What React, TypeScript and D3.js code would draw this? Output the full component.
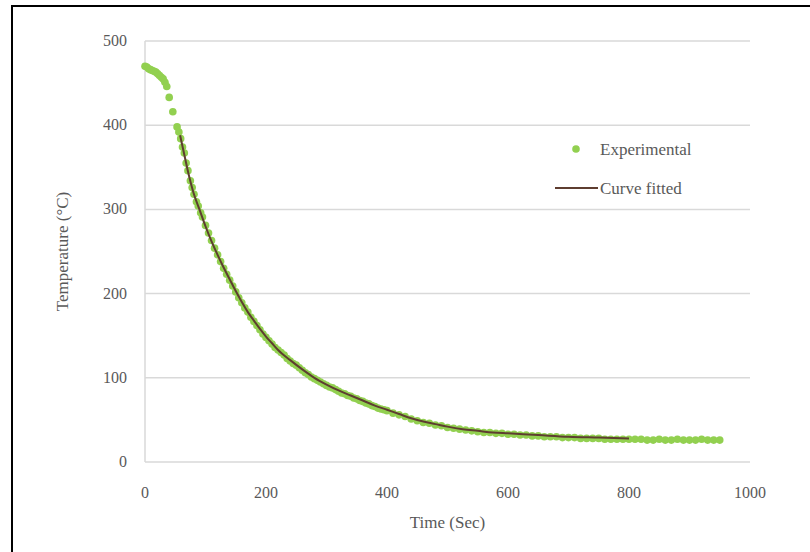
import React, { useEffect, useRef } from "react";
import * as d3 from "d3";

const expTime = [0, 3, 6, 9, 12, 15, 18, 21, 24, 27, 30, 33, 36, 40, 46, 53, 56, 59, 62, 65, 68, 71, 75, 78, 81, 85, 88, 92, 95, 100, 105, 110, 115, 120, 125, 130, 135, 140, 145, 150, 155, 160, 165, 170, 175, 180, 185, 190, 195, 200, 205, 210, 215, 220, 225, 230, 235, 240, 245, 250, 255, 260, 265, 270, 275, 280, 285, 290, 295, 300, 305, 310, 315, 320, 325, 330, 335, 340, 345, 350, 355, 360, 365, 370, 375, 380, 385, 390, 395, 400, 410, 420, 430, 440, 450, 460, 470, 480, 490, 500, 510, 520, 530, 540, 550, 560, 570, 580, 590, 600, 610, 620, 630, 640, 650, 660, 670, 680, 690, 700, 710, 720, 730, 740, 750, 760, 770, 780, 790, 800, 810, 820, 830, 840, 850, 860, 870, 880, 890, 900, 910, 920, 930, 940, 950];
const expTemp = [470, 469, 467, 466, 465, 464, 463, 461, 459, 457, 455, 451, 446, 433, 416, 398, 392, 384, 374, 367, 355, 346, 334, 326, 318, 309, 304, 296, 291, 281, 272, 263, 254, 246, 238, 230, 223, 216, 209, 202, 195, 189, 183, 178, 172, 167, 162, 157, 152, 148, 144, 140, 136, 133, 130, 127, 123, 120, 117, 115, 112, 109, 106, 104, 101, 99, 97, 95, 93, 91, 89, 88, 86, 84, 82, 81, 79, 78, 76, 75, 73, 72, 70, 69, 67, 66, 64, 63, 62, 61, 58, 56, 54, 51, 49, 47, 46, 44, 43, 41, 40, 39, 38, 37, 36, 35, 35, 34, 34, 33, 33, 32, 32, 31, 31, 30, 30, 30, 29, 29, 29, 28, 28, 28, 28, 27, 27, 27, 27, 27, 27, 27, 26, 26, 27, 26, 26, 27, 26, 26, 26, 27, 26, 26, 26];

const fitTime = [58, 65, 72, 80, 90, 100, 110, 120, 130, 140, 150, 160, 170, 180, 190, 200, 210, 220, 240, 260, 280, 300, 320, 340, 360, 380, 400, 420, 440, 460, 480, 500, 525, 550, 575, 600, 650, 700, 750, 800];
const fitTemp = [388, 365, 342, 320, 300, 280, 262, 246, 231, 217, 203, 190, 178, 168, 158, 149, 141, 133, 121, 110, 100, 92, 85, 79, 73, 67, 62, 57, 52, 48, 45, 42, 39, 37, 35, 34, 32, 30, 29, 28];

const xTicks = [0, 200, 400, 600, 800, 1000];
const yTicks = [0, 100, 200, 300, 400, 500];

const seriesNames = ["Experimental", "Curve fitted"];
const xTitle = "Time (Sec)";
const yTitle = "Temperature (°C)";

export default function App() {
  const ref = useRef<SVGSVGElement>(null);
  useEffect(() => {
    const svg = d3.select(ref.current);
    svg.selectAll("*").remove();
    const font = "'Liberation Serif', 'Times New Roman', serif";
    const textColor = "#595959";
    const x = d3.scaleLinear().domain([0, 1000]).range([145, 750]);
    const y = d3.scaleLinear().domain([0, 500]).range([462, 41]);

    svg.append("rect").attr("width", 810).attr("height", 552).attr("fill", "#fff");
    svg.append("rect").attr("x", 12).attr("y", 6).attr("width", 820).attr("height", 580)
      .attr("fill", "none").attr("stroke", "#000").attr("stroke-width", 2);

    svg.append("g").selectAll("line").data(yTicks).join("line")
      .attr("x1", x(0)).attr("x2", x(1000))
      .attr("y1", d => y(d)).attr("y2", d => y(d))
      .attr("stroke", "#d9d9d9").attr("stroke-width", 1.5);
    svg.append("line").attr("x1", x(0)).attr("x2", x(0)).attr("y1", y(500)).attr("y2", y(0))
      .attr("stroke", "#d9d9d9").attr("stroke-width", 1.5);

    svg.append("g").selectAll("text").data(yTicks).join("text")
      .attr("x", 127).attr("y", d => y(d) + 5).attr("text-anchor", "end")
      .attr("font-family", font).attr("font-size", 16).attr("fill", textColor)
      .text(d => String(d));
    svg.append("g").selectAll("text").data(xTicks).join("text")
      .attr("x", d => x(d)).attr("y", 498).attr("text-anchor", "middle")
      .attr("font-family", font).attr("font-size", 16).attr("fill", textColor)
      .text(d => String(d));

    svg.append("text").attr("x", x(500)).attr("y", 528).attr("text-anchor", "middle")
      .attr("font-family", font).attr("font-size", 17).attr("fill", textColor).text(xTitle);
    svg.append("text").attr("transform", `translate(68,${(y(0) + y(500)) / 2}) rotate(-90)`)
      .attr("text-anchor", "middle").attr("font-family", font).attr("font-size", 17)
      .attr("fill", textColor).text(yTitle);

    const pts = expTime.map((t, i) => [t, expTemp[i]] as [number, number]);
    svg.append("g").selectAll("circle").data(pts).join("circle")
      .attr("cx", d => x(d[0])).attr("cy", d => y(d[1])).attr("r", 3.8)
      .attr("fill", "#92d050");

    const fit = fitTime.map((t, i) => [t, fitTemp[i]] as [number, number]);
    const line = d3.line<[number, number]>().x(d => x(d[0])).y(d => y(d[1])).curve(d3.curveMonotoneX);
    svg.append("path").attr("d", line(fit)).attr("fill", "none")
      .attr("stroke", "#5e3d30").attr("stroke-width", 2);

    svg.append("circle").attr("cx", 576).attr("cy", 149).attr("r", 3.8).attr("fill", "#92d050");
    svg.append("text").attr("x", 600).attr("y", 155).attr("font-family", font).attr("font-size", 17)
      .attr("fill", textColor).text(seriesNames[0]);
    svg.append("line").attr("x1", 555).attr("x2", 598).attr("y1", 188).attr("y2", 188)
      .attr("stroke", "#5e3d30").attr("stroke-width", 2);
    svg.append("text").attr("x", 600).attr("y", 194).attr("font-family", font).attr("font-size", 17)
      .attr("fill", textColor).text(seriesNames[1]);
  }, []);
  return (
    <svg ref={ref} width={810} height={552}
      style={{ position: "absolute", left: 0, top: 0, display: "block" }} />
  );
}
